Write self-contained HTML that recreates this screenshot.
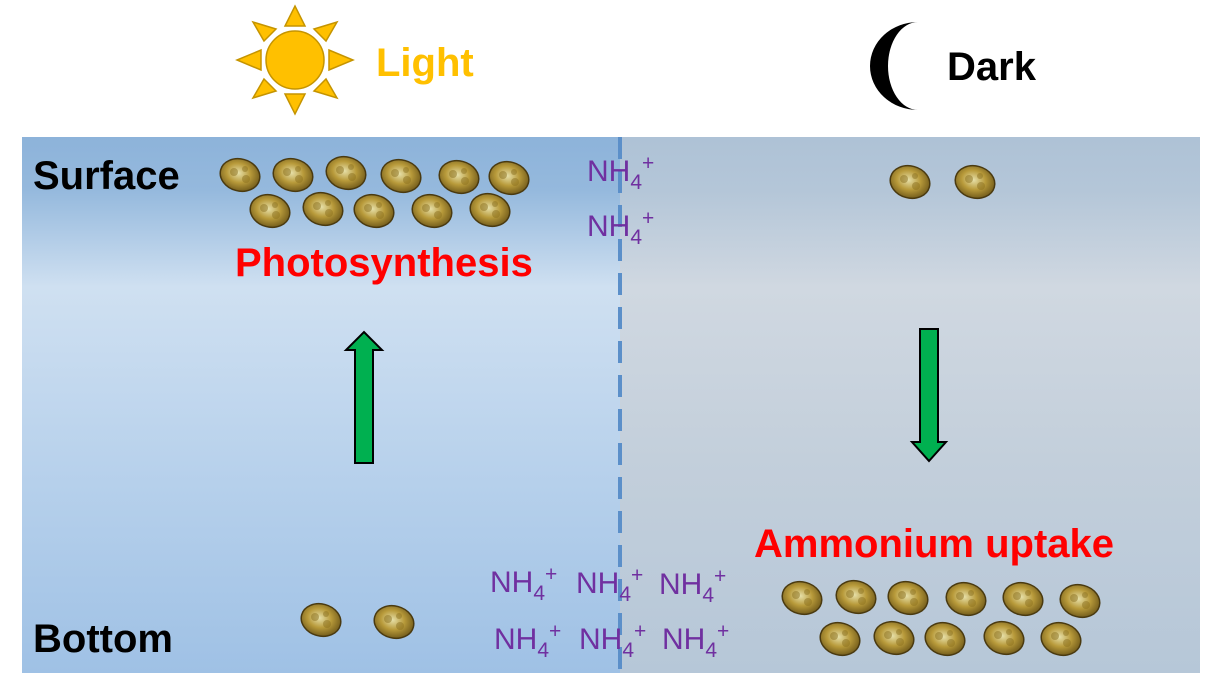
<!DOCTYPE html>
<html><head><style>
body{margin:0;width:1213px;height:683px;background:#fff;overflow:hidden;position:relative;font-family:"Liberation Sans",Arial,sans-serif}
.t{position:absolute;white-space:nowrap}
.n{position:absolute;color:#7030a0;font-size:30px;white-space:nowrap}
.n sub{font-size:21px;vertical-align:-8px}
.n sup{font-size:21px;vertical-align:11px}
</style></head><body>
<svg width="1213" height="683" style="position:absolute;left:0;top:0">
<defs>
<linearGradient id="lg" x1="0" y1="0" x2="0" y2="1">
<stop offset="0" stop-color="#8db3da"/><stop offset="0.1" stop-color="#95b9dd"/><stop offset="0.28" stop-color="#cfe0f1"/><stop offset="0.6" stop-color="#b9d2ec"/><stop offset="1" stop-color="#9fc1e5"/></linearGradient>
<linearGradient id="rg" x1="0" y1="0" x2="0" y2="1">
<stop offset="0" stop-color="#aec2d6"/><stop offset="0.1" stop-color="#b4c6d8"/><stop offset="0.28" stop-color="#d0d8e1"/><stop offset="0.6" stop-color="#c3cfdb"/><stop offset="1" stop-color="#b6c7d8"/></linearGradient>
<radialGradient id="bg" cx="0.45" cy="0.45" r="0.6">
<stop offset="0" stop-color="#e6dfa8"/><stop offset="0.5" stop-color="#b89a3a"/><stop offset="1" stop-color="#6b5518"/></radialGradient>
<g id="b"><ellipse cx="0" cy="0" rx="20" ry="16" transform="rotate(15)" fill="url(#bg)" stroke="#4a3a10" stroke-width="1.5"/>
<circle cx="-6" cy="-3" r="4" fill="#8a7020" opacity=".5"/><circle cx="6" cy="4" r="4" fill="#8a7020" opacity=".5"/><circle cx="5" cy="-6" r="3" fill="#8a7020" opacity=".5"/></g>
</defs>
<rect x="22" y="137" width="598" height="536" fill="url(#lg)"/>
<rect x="620" y="137" width="580" height="536" fill="url(#rg)"/>
<line x1="620" y1="137" x2="620" y2="673" stroke="#5b8fc9" stroke-width="4" stroke-dasharray="22,12"/>
<g fill="#ffc000" stroke="#c59400" stroke-width="1.5">
<circle cx="295" cy="60" r="29"/>
<polygon points="285,26 305,26 295,6"/><polygon points="285,94 305,94 295,114"/>
<polygon points="261,50 261,70 237,60"/><polygon points="329,50 329,70 353,60"/>
<polygon points="264,41 276,29 253,22"/><polygon points="314,29 326,41 337,22"/>
<polygon points="264,79 276,91 253,98"/><polygon points="314,91 326,79 337,98"/>
</g>
<path d="M918,22 A48,44 0 0,0 918,110 A30,44 0 0,1 918,22 Z" fill="#000"/>
<polygon points="355,463 373,463 373,350 382,350 364,332 346,350 355,350" fill="#00b050" stroke="#000" stroke-width="2"/>
<polygon points="920,329 938,329 938,442 946,442 929,461 912,442 920,442" fill="#00b050" stroke="#000" stroke-width="2"/>
<g>
<use href="#b" x="240" y="175"/><use href="#b" x="293" y="175"/><use href="#b" x="346" y="173"/><use href="#b" x="401" y="176"/><use href="#b" x="459" y="177"/><use href="#b" x="509" y="178"/>
<use href="#b" x="270" y="211"/><use href="#b" x="323" y="209"/><use href="#b" x="374" y="211"/><use href="#b" x="432" y="211"/><use href="#b" x="490" y="210"/>
<use href="#b" x="321" y="620"/><use href="#b" x="394" y="622"/>
<use href="#b" x="910" y="182"/><use href="#b" x="975" y="182"/>
<use href="#b" x="802" y="598"/><use href="#b" x="856" y="597"/><use href="#b" x="908" y="598"/><use href="#b" x="966" y="599"/><use href="#b" x="1023" y="599"/><use href="#b" x="1080" y="601"/>
<use href="#b" x="840" y="639"/><use href="#b" x="894" y="638"/><use href="#b" x="945" y="639"/><use href="#b" x="1004" y="638"/><use href="#b" x="1061" y="639"/>
</g>
</svg>
<div class="t" style="left:376px;top:41px;font-size:40px;font-weight:bold;color:#ffc000">Light</div>
<div class="t" style="left:947px;top:45px;font-size:40px;font-weight:bold;color:#000">Dark</div>
<div class="t" style="left:33px;top:154px;font-size:40px;font-weight:bold;color:#000">Surface</div>
<div class="t" style="left:33px;top:617px;font-size:40px;font-weight:bold;color:#000">Bottom</div>
<div class="t" style="left:235px;top:241px;font-size:40px;font-weight:bold;color:#ff0000">Photosynthesis</div>
<div class="t" style="left:754px;top:522px;font-size:40px;font-weight:bold;color:#ff0000">Ammonium uptake</div>
<div class="n" style="left:587px;top:152px">NH<sub>4</sub><sup>+</sup></div>
<div class="n" style="left:587px;top:207px">NH<sub>4</sub><sup>+</sup></div>
<div class="n" style="left:490px;top:563px">NH<sub>4</sub><sup>+</sup></div>
<div class="n" style="left:576px;top:564px">NH<sub>4</sub><sup>+</sup></div>
<div class="n" style="left:659px;top:565px">NH<sub>4</sub><sup>+</sup></div>
<div class="n" style="left:494px;top:620px">NH<sub>4</sub><sup>+</sup></div>
<div class="n" style="left:579px;top:620px">NH<sub>4</sub><sup>+</sup></div>
<div class="n" style="left:662px;top:620px">NH<sub>4</sub><sup>+</sup></div>
</body></html>
